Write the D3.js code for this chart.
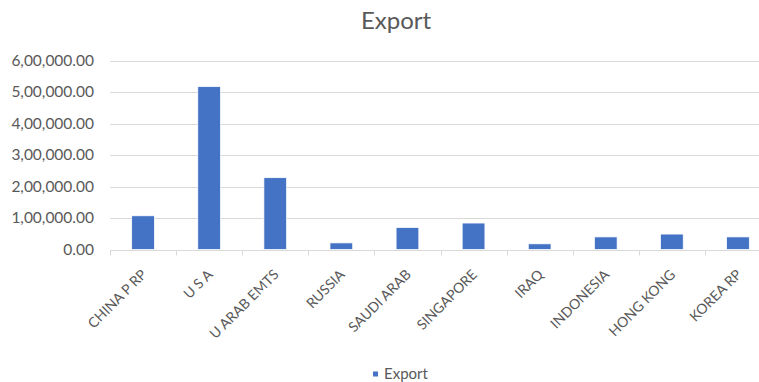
<!DOCTYPE html>
<html><head><meta charset="utf-8">
<script src="https://cdn.jsdelivr.net/npm/d3@7"></script>
<style>
html,body{margin:0;padding:0;background:#fff;overflow:hidden}
text{font-family:Lato,"Open Sans",sans-serif;fill:#595959}
</style></head>
<body>
<svg id="c" width="759" height="382"></svg>
<script>
const categories = ["CHINA P RP","U S A","U ARAB EMTS","RUSSIA","SAUDI ARAB","SINGAPORE","IRAQ","INDONESIA","HONG KONG","KOREA RP"];
const exportValues = [107000,517000,228000,21000,70000,84000,18000,40000,49000,40000];
const yTicks = [0,100000,200000,300000,400000,500000,600000];
const seriesName = "Export";
const chartTitle = "Export";

function indianFormat(v){
  const s = Math.round(v).toString();
  let out;
  if (s.length <= 3) out = s;
  else {
    const last3 = s.slice(-3);
    let rest = s.slice(0, -3);
    const parts = [];
    while (rest.length > 2){ parts.unshift(rest.slice(-2)); rest = rest.slice(0,-2); }
    if (rest.length) parts.unshift(rest);
    out = parts.join(",") + "," + last3;
  }
  return out + ".00";
}

const svg = d3.select("#c");
const x = d3.scaleBand().domain(categories).range([110, 771]).paddingInner(0.656).paddingOuter(0.328);
const y = d3.scaleLinear().domain([0, 600000]).range([249.5, 60.5]);
const step = x.step();

// gridlines
svg.append("g").selectAll("line").data(yTicks.filter(d=>d>0)).join("line")
  .attr("x1",110).attr("x2",771)
  .attr("y1",d=>Math.round(y(d))+0.5).attr("y2",d=>Math.round(y(d))+0.5)
  .attr("stroke","#d9d9d9").attr("stroke-width",1);

// y labels
svg.append("g").selectAll("text").data(yTicks).join("text")
  .attr("x",94).attr("y",d=>y(d)).attr("dy","0.35em")
  .attr("text-anchor","end").style("font-size","15.5px")
  .text(indianFormat);

// x axis line + ticks
const base = Math.round(y(0))+0.5;
svg.append("line").attr("x1",110).attr("x2",771).attr("y1",base).attr("y2",base)
  .attr("stroke","#d9d9d9");
const bounds = categories.map(c => x(c) - x.paddingOuter()*step).concat([771]);
svg.append("g").selectAll("line").data(bounds).join("line")
  .attr("x1",d=>Math.round(d)+0.5).attr("x2",d=>Math.round(d)+0.5)
  .attr("y1",base).attr("y2",base+5).attr("stroke","#d9d9d9");

// bars
svg.append("g").selectAll("rect").data(categories).join("rect")
  .attr("x",c=>x(c)).attr("width",x.bandwidth())
  .attr("y",(c,i)=>y(exportValues[i])).attr("height",(c,i)=>y(0)-y(exportValues[i]))
  .attr("fill","#4472c4").attr("stroke","#ffffff").attr("stroke-width",0.75);

// x labels
svg.append("g").selectAll("text").data(categories).join("text")
  .attr("transform",c=>`translate(${x(c)+x.bandwidth()/2+1},${272}) rotate(-45)`)
  .attr("text-anchor","end").attr("dy","0.35em").style("font-size","14px")
  .text(c=>c);

// title
svg.append("text").attr("x",396).attr("y",29).attr("text-anchor","middle")
  .style("font-size","24px").text(chartTitle);

// legend
svg.append("rect").attr("x",373).attr("y",371.5).attr("width",5).attr("height",5).attr("fill","#4472c4");
svg.append("text").attr("x",384).attr("y",379).style("font-size","15px").text(seriesName);
</script>
</body></html>
